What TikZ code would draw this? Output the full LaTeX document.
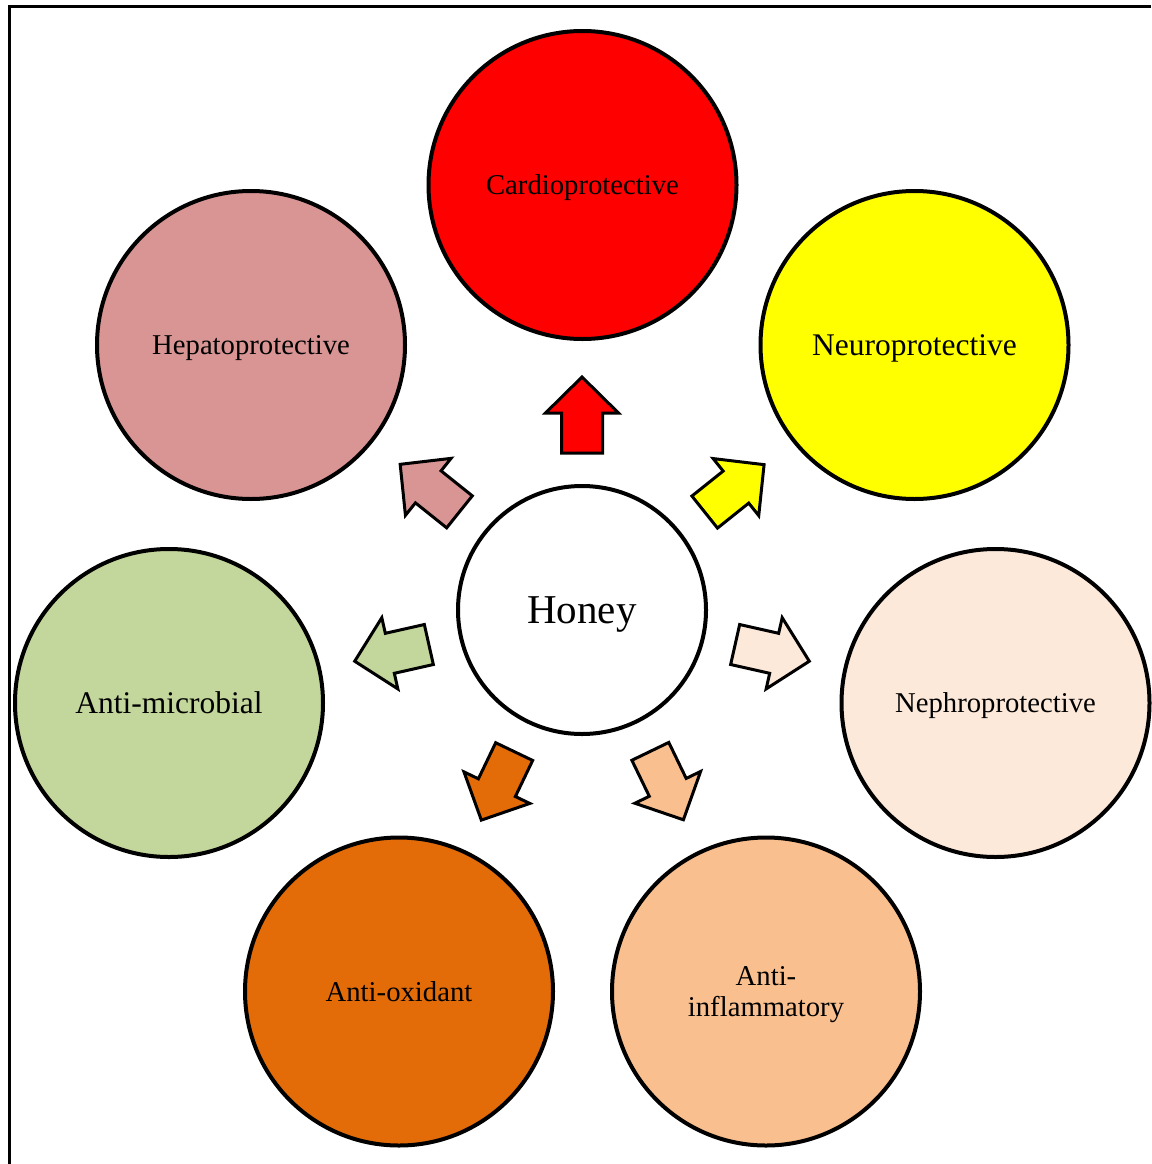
\documentclass[tikz,border=0pt]{standalone}
\usepackage{fontspec}
\setmainfont{Liberation Serif}
\definecolor{cardioC}{HTML}{FF0000}
\definecolor{neuroC}{HTML}{FFFF00}
\definecolor{hepatoC}{HTML}{D99594}
\definecolor{nephroC}{HTML}{FDE9D9}
\definecolor{microC}{HTML}{C3D69B}
\definecolor{oxiC}{HTML}{E36C09}
\definecolor{inflamC}{HTML}{FABF8F}
\newcommand{\honeyarrow}[2]{%
  \begin{scope}[shift={(honey.center)}, rotate=#1]
    \draw[blockarrow, fill=#2] (157,-20.5) -- (197,-20.5) -- (197,-36.5) -- (233,0)
      -- (197,36.5) -- (197,20.5) -- (157,20.5) -- cycle;
  \end{scope}}
\begin{document}
\begin{tikzpicture}[x=1pt,y=-1pt,
  bubble/.style={circle, draw=black, line width=4pt, minimum size=308pt, inner sep=0pt,
    align=center, text depth=0pt, font=\fontsize{28.7}{31}\selectfont},
  bigtext/.style={font=\fontsize{31.5}{34}\selectfont},
  blockarrow/.style={draw=black, line width=3pt, line join=miter},
  frameline/.style={line width=3pt}]
\useasboundingbox (0,0) rectangle (1151,1164);
\draw[frameline] (1151,7) -- (9,7) -- (9,1164);

\node[circle, draw=black, line width=4pt, minimum size=248pt, inner sep=0pt, fill=white,
  text depth=0pt, font=\fontsize{41}{44}\selectfont] (honey) at (582,610) {Honey};

\node[bubble, fill=cardioC] (cardio) at (582.5,185) {Cardioprotective};
\node[bubble, bigtext, fill=neuroC] (neuro) at (914.5,345) {Neuroprotective};
\node[bubble, fill=hepatoC] (hepato) at (251,345) {Hepatoprotective};
\node[bubble, fill=nephroC] (nephro) at (995.5,703) {Nephroprotective};
\node[bubble, bigtext, fill=microC] (micro) at (169,703) {Anti-microbial};
\node[bubble, fill=oxiC] (oxi) at (399,991.5) {Anti-oxidant};
\node[bubble, fill=inflamC] (inflam) at (766,991.5) {Anti-\\inflammatory};

\honeyarrow{90}{cardioC}
\honeyarrow{38.6}{neuroC}
\honeyarrow{-12.7}{nephroC}
\honeyarrow{-64.2}{inflamC}
\honeyarrow{-115.6}{oxiC}
\honeyarrow{-167.3}{microC}
\honeyarrow{141.3}{hepatoC}
\end{tikzpicture}
\end{document}
